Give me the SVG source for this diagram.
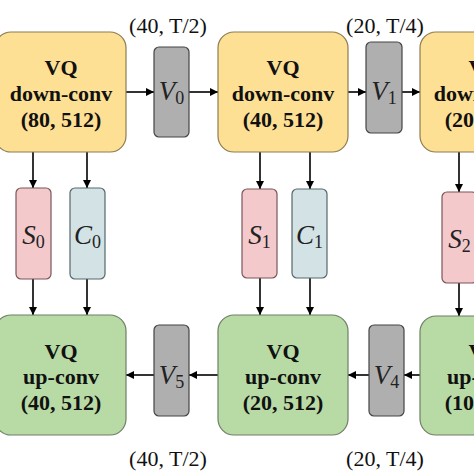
<svg xmlns="http://www.w3.org/2000/svg" width="474" height="474" viewBox="0 0 474 474">
<style>
.down{fill:#FEE095;stroke:#8C7C50;stroke-width:1.2}
.up{fill:#B8DBA5;stroke:#6E7F66;stroke-width:1.2}
.v{fill:#AFAFAF;stroke:#444;stroke-width:1.2}
.s{fill:#F4C9CC;stroke:#7A5658;stroke-width:1.2}
.c{fill:#D2E2E5;stroke:#56686C;stroke-width:1.2}
.bt{font-family:"Liberation Serif",serif;font-weight:bold;font-size:22px;fill:#111;text-anchor:middle}
.lbl{font-family:"Liberation Serif",serif;font-size:22px;fill:#111;text-anchor:middle}
.m{font-family:"Liberation Serif",serif;font-size:27px;fill:#222;text-anchor:middle}
.m .i{font-style:italic}
.m .sub{font-size:18px}
.edge{stroke:#000;stroke-width:1.6;fill:none;marker-end:url(#ah)}
</style>
<defs>
<marker id="ah" viewBox="0 0 10 10" refX="10" refY="5" markerWidth="9" markerHeight="8" markerUnits="userSpaceOnUse" orient="auto">
<path d="M0,0 L10,5 L0,10 z" fill="#000"/>
</marker>
</defs>
<rect width="474" height="474" fill="#fff"/>
<g id="connectors">
<line class="edge" x1="126" y1="92" x2="154" y2="92"/>
<line class="edge" x1="189" y1="92" x2="218" y2="92"/>
<line class="edge" x1="348" y1="92" x2="366" y2="92"/>
<line class="edge" x1="402" y1="92" x2="420" y2="92"/>
<line class="edge" x1="33" y1="152" x2="33" y2="188"/>
<line class="edge" x1="87" y1="152" x2="87" y2="188"/>
<line class="edge" x1="33" y1="279" x2="33" y2="315"/>
<line class="edge" x1="87" y1="279" x2="87" y2="315"/>
<line class="edge" x1="260" y1="152" x2="260" y2="189"/>
<line class="edge" x1="310" y1="152" x2="310" y2="189"/>
<line class="edge" x1="260" y1="278" x2="260" y2="315"/>
<line class="edge" x1="310" y1="278" x2="310" y2="315"/>
<line class="edge" x1="459" y1="152" x2="459" y2="192"/>
<line class="edge" x1="459" y1="283" x2="459" y2="316"/>
<line class="edge" x1="420" y1="375" x2="404" y2="375"/>
<line class="edge" x1="369" y1="375" x2="348" y2="375"/>
<line class="edge" x1="218" y1="375" x2="189" y2="375"/>
<line class="edge" x1="154" y1="375" x2="126" y2="375"/>
</g>
<g id="down0"><rect class="down" x="-5" y="32" width="131" height="120" rx="16"/>
<text class="bt" x="61" y="75">VQ</text><text class="bt" x="61" y="101">down-conv</text><text class="bt" x="61" y="127">(80, 512)</text></g>
<g id="down1"><rect class="down" x="218" y="32" width="130" height="120" rx="16"/>
<text class="bt" x="283" y="75">VQ</text><text class="bt" x="283" y="101">down-conv</text><text class="bt" x="283" y="127">(40, 512)</text></g>
<g id="down2"><rect class="down" x="420" y="32" width="130" height="120" rx="16"/>
<text class="bt" x="485" y="75">VQ</text><text class="bt" x="485" y="101">down-conv</text><text class="bt" x="485" y="127">(20, 512)</text></g>
<g id="up0"><rect class="up" x="-5" y="315" width="131" height="120" rx="16"/>
<text class="bt" x="61" y="359">VQ</text><text class="bt" x="61" y="384">up-conv</text><text class="bt" x="61" y="410">(40, 512)</text></g>
<g id="up1"><rect class="up" x="218" y="315" width="130" height="120" rx="16"/>
<text class="bt" x="283" y="359">VQ</text><text class="bt" x="283" y="384">up-conv</text><text class="bt" x="283" y="410">(20, 512)</text></g>
<g id="up2"><rect class="up" x="420" y="316" width="130" height="119" rx="16"/>
<text class="bt" x="485" y="359">VQ</text><text class="bt" x="485" y="384">up-conv</text><text class="bt" x="485" y="410">(10, 512)</text></g>
<g id="V0"><rect class="v" x="154" y="47" width="35" height="90" rx="5"/>
<text class="m" x="171.5" y="100"><tspan class="i">V</tspan><tspan class="sub" dy="4">0</tspan></text></g>
<g id="V1"><rect class="v" x="366" y="42" width="36" height="91" rx="5"/>
<text class="m" x="384" y="100"><tspan class="i">V</tspan><tspan class="sub" dy="4">1</tspan></text></g>
<g id="V4"><rect class="v" x="369" y="325" width="35" height="91" rx="5"/>
<text class="m" x="386.5" y="384"><tspan class="i">V</tspan><tspan class="sub" dy="4">4</tspan></text></g>
<g id="V5"><rect class="v" x="154" y="325" width="35" height="91" rx="5"/>
<text class="m" x="171.5" y="384"><tspan class="i">V</tspan><tspan class="sub" dy="4">5</tspan></text></g>
<g id="S0"><rect class="s" x="16" y="188" width="35" height="91" rx="5"/>
<text class="m" x="33.5" y="244"><tspan class="i">S</tspan><tspan class="sub" dy="4">0</tspan></text></g>
<g id="C0"><rect class="c" x="70" y="188" width="35" height="91" rx="5"/>
<text class="m" x="87.5" y="244"><tspan class="i">C</tspan><tspan class="sub" dy="4">0</tspan></text></g>
<g id="S1"><rect class="s" x="242" y="189" width="35" height="89" rx="5"/>
<text class="m" x="259.5" y="244"><tspan class="i">S</tspan><tspan class="sub" dy="4">1</tspan></text></g>
<g id="C1"><rect class="c" x="292" y="189" width="35" height="89" rx="5"/>
<text class="m" x="309.5" y="244"><tspan class="i">C</tspan><tspan class="sub" dy="4">1</tspan></text></g>
<g id="S2"><rect class="s" x="442" y="192" width="35" height="91" rx="5"/>
<text class="m" x="459.5" y="248"><tspan class="i">S</tspan><tspan class="sub" dy="4">2</tspan></text></g>
<g id="labels">
<text class="lbl" x="168" y="33">(40, T/2)</text>
<text class="lbl" x="385" y="33">(20, T/4)</text>
<text class="lbl" x="168" y="466">(40, T/2)</text>
<text class="lbl" x="385" y="466">(20, T/4)</text>
</g>
</svg>
